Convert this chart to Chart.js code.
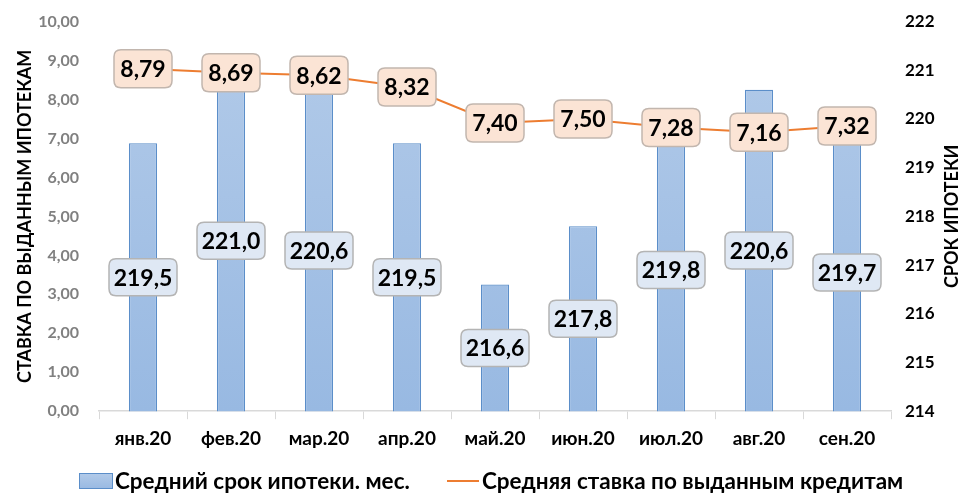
<!DOCTYPE html>
<html>
<head>
<meta charset="utf-8">
<script src="https://cdn.jsdelivr.net/npm/chart.js@4"></script>
<style>
  html, body { margin: 0; padding: 0; background: #fff; }
  #wrap { width: 969px; height: 499px; }
</style>
</head>
<body>
<div id="wrap"><canvas id="myChart"></canvas></div>
<script>
const months = ["янв.20", "фев.20", "мар.20", "апр.20", "май.20", "июн.20", "июл.20", "авг.20", "сен.20"];
const termMonths = [219.5, 221.0, 220.6, 219.5, 216.6, 217.8, 219.8, 220.6, 219.7];
const avgRate = [8.79, 8.69, 8.62, 8.32, 7.40, 7.50, 7.28, 7.16, 7.32];

const termLabel = "Средний срок ипотеки. мес.";
const rateLabel = "Средняя ставка по выданным кредитам";
const leftTitle = "СТАВКА ПО ВЫДАННЫМ ИПОТЕКАМ";
const rightTitle = "СРОК ИПОТЕКИ";

const FONT = "Lato, 'Open Sans', sans-serif";

function fmt(v, d) {
  return v.toFixed(d).replace(".", ",");
}

function roundBox(ctx, x, y, w, h, r) {
  ctx.beginPath();
  ctx.moveTo(x + r, y);
  ctx.lineTo(x + w - r, y);
  ctx.quadraticCurveTo(x + w, y, x + w, y + r);
  ctx.lineTo(x + w, y + h - r);
  ctx.quadraticCurveTo(x + w, y + h, x + w - r, y + h);
  ctx.lineTo(x + r, y + h);
  ctx.quadraticCurveTo(x, y + h, x, y + h - r);
  ctx.lineTo(x, y + r);
  ctx.quadraticCurveTo(x, y, x + r, y);
  ctx.closePath();
}

function barGradient(ctx, top, bottom) {
  const g = ctx.createLinearGradient(0, top, 0, bottom);
  g.addColorStop(0, "#b3cbe9");
  g.addColorStop(1, "#98b9e2");
  return g;
}

// labels, axis titles and legend drawn by hand
const extras = {
  id: "extras",
  afterDatasetsDraw(chart) {
    const ctx = chart.ctx;
    const yTerm = chart.scales.yTerm;
    const basePx = yTerm.getPixelForValue(yTerm.min);
    ctx.save();
    ctx.font = "bold 23px " + FONT;
    ctx.textAlign = "center";
    ctx.textBaseline = "middle";

    // bar labels, middle of the bar
    chart.getDatasetMeta(0).data.forEach((bar, i) => {
      const txt = fmt(termMonths[i], 1);
      const top = yTerm.getPixelForValue(termMonths[i]);
      const cy = (top + basePx) / 2;
      const w = 68, h = 37;
      roundBox(ctx, bar.x - w / 2, cy - h / 2, w, h, 7);
      ctx.fillStyle = "#dfe8f4";
      ctx.fill();
      ctx.strokeStyle = "#b4b4b4";
      ctx.lineWidth = 1.5;
      ctx.stroke();
      ctx.fillStyle = "#000";
      ctx.fillText(txt, bar.x, cy + 1);
    });

    // line labels, centered on points
    chart.getDatasetMeta(1).data.forEach((pt, i) => {
      const txt = fmt(avgRate[i], 2);
      const w = 58, h = 38;
      roundBox(ctx, pt.x - w / 2, pt.y - h / 2, w, h, 7);
      ctx.fillStyle = "#fbe4d5";
      ctx.fill();
      ctx.strokeStyle = "#c2b6ae";
      ctx.lineWidth = 1.5;
      ctx.stroke();
      ctx.fillStyle = "#000";
      ctx.fillText(txt, pt.x, pt.y + 1);
    });

    // axis titles
    const area = chart.chartArea;
    const midY = (area.top + area.bottom) / 2;
    ctx.font = "bold 18px " + FONT;
    ctx.save();
    ctx.translate(25, midY);
    ctx.rotate(-Math.PI / 2);
    ctx.fillText(leftTitle, 0, 0);
    ctx.restore();
    ctx.save();
    ctx.translate(952, midY);
    ctx.rotate(-Math.PI / 2);
    ctx.fillText(rightTitle, 0, 0);
    ctx.restore();

    // legend
    const ly = 481;
    ctx.font = "bold 22.5px " + FONT;
    ctx.textAlign = "left";
    ctx.fillStyle = barGradient(ctx, ly - 8, ly + 8);
    ctx.fillRect(79, ly - 8, 34, 16);
    ctx.strokeStyle = "#5b8ec9";
    ctx.lineWidth = 1;
    ctx.strokeRect(79.5, ly - 7.5, 33, 15);
    ctx.fillStyle = "#000";
    ctx.fillText(termLabel, 115, ly + 1);

    ctx.strokeStyle = "#ed7d31";
    ctx.lineWidth = 2;
    ctx.beginPath();
    ctx.moveTo(447, ly);
    ctx.lineTo(479, ly);
    ctx.stroke();
    ctx.fillStyle = "#000";
    ctx.fillText(rateLabel, 482, ly + 1);
    ctx.restore();
  }
};

const ctx = document.getElementById("myChart").getContext("2d");
const myChart = new Chart(ctx, {
  data: {
    labels: months,
    datasets: [
      {
        type: "bar",
        label: termLabel,
        data: termMonths,
        yAxisID: "yTerm",
        backgroundColor: (c) => {
          const a = c.chart.chartArea;
          if (!a) return "#a6c3e6";
          return barGradient(c.chart.ctx, a.top, a.bottom);
        },
        borderColor: "#5b8ec9",
        borderWidth: 1.2,
        barPercentage: 0.32,
        categoryPercentage: 1,
        order: 2
      },
      {
        type: "line",
        label: rateLabel,
        data: avgRate,
        yAxisID: "yRate",
        borderColor: "#ed7d31",
        borderWidth: 2,
        pointRadius: 0,
        tension: 0,
        order: 1
      }
    ]
  },
  options: {
    responsive: true,
    maintainAspectRatio: false,
    animation: false,
    layout: { padding: { top: 1, bottom: 41 } },
    plugins: {
      legend: { display: false },
      tooltip: { enabled: false }
    },
    scales: {
      x: {
        grid: {
          offset: true,
          drawOnChartArea: false,
          color: "#d9d9d9",
          tickLength: 8
        },
        border: { color: "#d9d9d9", width: 1.5 },
        ticks: {
          color: "#000",
          font: { family: FONT, size: 19, weight: "bold" },
          padding: 8,
          maxRotation: 0
        }
      },
      yRate: {
        position: "left",
        min: 0,
        max: 10,
        grid: { display: false },
        border: { display: false },
        ticks: {
          stepSize: 1,
          color: "#808080",
          font: { family: FONT, size: 16, weight: "bold" },
          padding: 12,
          callback: (v) => fmt(v, 2)
        },
        afterFit: (s) => { s.width = 99; }
      },
      yTerm: {
        position: "right",
        min: 214,
        max: 222,
        grid: { display: false },
        border: { display: false },
        ticks: {
          stepSize: 1,
          color: "#000",
          font: { family: FONT, size: 17, weight: "bold" },
          padding: 6
        },
        afterFit: (s) => { s.width = 78; }
      }
    }
  },
  plugins: [extras]
});
</script>
</body>
</html>
